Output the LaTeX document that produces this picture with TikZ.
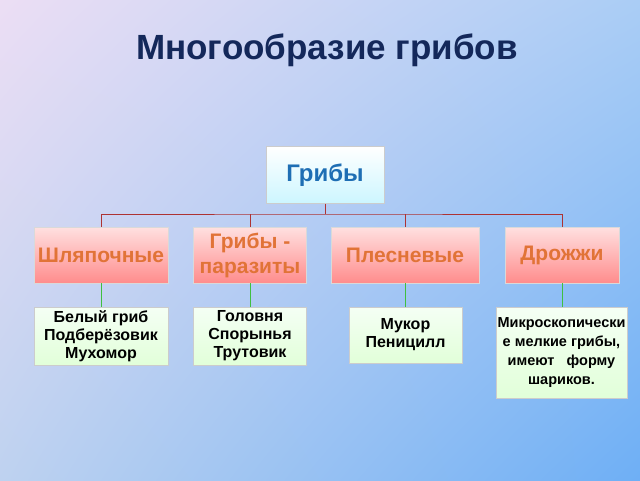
\documentclass[tikz,border=0pt]{standalone}
\usepackage{fontspec}
\setmainfont{Liberation Sans}
\usetikzlibrary{shadings}
\definecolor{bgul}{RGB}{236,222,244}
\definecolor{bgur}{RGB}{170,205,245}
\definecolor{bgll}{RGB}{190,210,240}
\definecolor{bglr}{RGB}{110,175,245}
\definecolor{titc}{RGB}{20,40,90}
\definecolor{rootc}{RGB}{30,110,180}
\definecolor{catc}{RGB}{225,115,55}
\begin{document}
\begin{tikzpicture}[x=1pt,y=-1pt,
 root/.style={draw=gray!40,top color=white,bottom color=blue!18!cyan!20,text=rootc,font=\bfseries\fontsize{24}{26}\selectfont,minimum width=118pt,minimum height=57pt},
 cat/.style={draw=gray!30,top color=red!12,bottom color=red!45,text=catc,font=\bfseries\fontsize{21}{25}\selectfont,minimum width=#1,minimum height=56pt,align=center,inner sep=1pt},
 leaf/.style={draw=gray!40,top color=green!4!white,bottom color=lime!30!green!15,font=\bfseries\fontsize{16}{18}\selectfont,minimum width=#1,align=center,inner sep=1pt},
 redl/.style={draw=red!60!black!80,line width=1pt},
 grnl/.style={draw=green!50!gray,line width=0.8pt}]
\shade[upper left=bgul,upper right=bgur,lower left=bgll,lower right=bglr] (0,0) rectangle (640,480);
\node[text=titc,font=\bfseries\fontsize{35}{40}\selectfont] (title) at (327,50) {Многообразие грибов};
\node[root] (r) at (325,175) {Грибы};
\node[cat=134pt] (c1) at (101,255) {Шляпочные};
\node[cat=113pt] (c2) at (250,255) {Грибы -\\паразиты};
\node[cat=148pt] (c3) at (405,255) {Плесневые};
\node[cat=114pt] (c4) at (562,255) {Дрожжи};
\node[leaf=134pt,minimum height=58pt] (l1) at (101,336) {Белый гриб\\Подберёзовик\\Мухомор};
\node[leaf=113pt,minimum height=58pt] (l2) at (250,336) {Головня\\Спорынья\\Трутовик};
\node[leaf=113pt,minimum height=56pt] (l3) at (405.5,335) {Мукор\\Пеницилл};
\node[leaf=131pt,minimum height=91pt,font=\bfseries\fontsize{14.5}{19}\selectfont] (l4) at (561.5,352.5) {Микроскопически\\е мелкие грибы,\\имеют~~ форму\\шариков.};
\coordinate (b) at (325,214);
\draw[redl] (r.south) -- (b);
\draw[redl] (c1.north) |- (b) -| (c4.north);
\draw[redl] (c2.north) -- (c2.north |- b);
\draw[redl] (c3.north) -- (c3.north |- b);
\foreach \i in {1,2,3,4} \draw[grnl] (c\i.south) -- (c\i.south |- l\i.north);
\end{tikzpicture}
\end{document}
